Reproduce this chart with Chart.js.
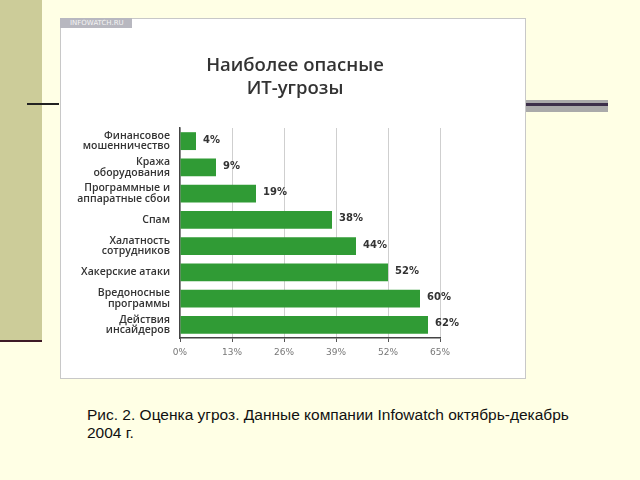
<!DOCTYPE html>
<html>
<head>
<meta charset="utf-8">
<script src="https://cdn.jsdelivr.net/npm/chart.js"></script>
<style>
  html, body { margin: 0; padding: 0; }
  body { width: 640px; height: 480px; background: #ffffe5; position: relative; overflow: hidden; }
  .strip { position: absolute; left: 0; top: 0; width: 42px; height: 340px; background: #cccc99; border-bottom: 2px solid #3d1a26; }
  .lineL { position: absolute; left: 27px; top: 103px; width: 32px; height: 2px; background: #222; }
  .bandR { position: absolute; left: 526px; top: 100px; width: 82px; height: 12px; background: #aaaaaa; }
  .bandR div { position: absolute; left: 0; top: 3px; width: 82px; height: 3px; background: #3c2f4a; }
  .panel { position: absolute; left: 60px; top: 18px; width: 464px; height: 359px; background: #fff; border: 1px solid #c8c8c8; }
  .tab { position: absolute; left: 60px; top: 18px; width: 72px; height: 10px; background: #b8b8c0; color: #f4f4f4;
         font: 7px "DejaVu Sans", sans-serif; line-height: 10px; text-indent: 10px; white-space: nowrap; overflow: hidden; }
  .chartbox { position: absolute; left: 61px; top: 19px; width: 463px; height: 358px; }
  .caption { position: absolute; left: 87px; top: 406px; font: 15.5px "Liberation Sans", Arial, sans-serif; line-height: 18px; color: #111; }
</style>
</head>
<body>
<div class="strip"></div>
<div class="lineL"></div>
<div class="bandR"><div></div></div>
<div class="panel"></div>
<div class="chartbox"><canvas id="chart"></canvas></div>
<div class="tab">INFOWATCH.RU</div>
<div class="caption">Рис. 2. Оценка угроз. Данные компании Infowatch октябрь-декабрь<br>2004 г.</div>
<script>
const categories = [
  ['Финансовое', 'мошенничество'],
  ['Кража', 'оборудования'],
  ['Программные и', 'аппаратные сбои'],
  'Спам',
  ['Халатность', 'сотрудников'],
  'Хакерские атаки',
  ['Вредоносные', 'программы'],
  ['Действия', 'инсайдеров']
];
const values = [4, 9, 19, 38, 44, 52, 60, 62];
const titleLines = ['Наиболее опасные', 'ИТ-угрозы'];
const tickMax = 65;
const tickStep = 13;

// two-line heading, centred on the white panel rather than the plot
const heading = {
  id: 'heading',
  afterDraw(chart) {
    const ctx = chart.ctx;
    ctx.save();
    ctx.font = '600 18.5px "Open Sans", sans-serif';
    ctx.fillStyle = '#333';
    ctx.textAlign = 'center';
    ctx.textBaseline = 'middle';
    titleLines.forEach((t, i) => ctx.fillText(t, 234, 46.5 + i * 23.5));
    ctx.restore();
  }
};

// percent labels at the end of each bar
const valueLabels = {
  id: 'valueLabels',
  afterDatasetsDraw(chart) {
    const ctx = chart.ctx;
    const meta = chart.getDatasetMeta(0);
    ctx.save();
    ctx.font = 'bold 10px "DejaVu Sans", sans-serif';
    ctx.fillStyle = '#333';
    ctx.textAlign = 'left';
    ctx.textBaseline = 'middle';
    meta.data.forEach((bar, i) => {
      ctx.fillText(values[i] + '%', bar.x + 7, bar.y - 1);
    });
    ctx.restore();
  }
};

new Chart(document.getElementById('chart'), {
  type: 'bar',
  data: {
    labels: categories,
    datasets: [{
      data: values,
      backgroundColor: '#309b35',
      borderWidth: 0,
      barPercentage: 0.68,
      categoryPercentage: 1
    }]
  },
  options: {
    indexAxis: 'y',
    responsive: true,
    maintainAspectRatio: false,
    animation: false,
    layout: { padding: { left: 0, right: 84, top: 109, bottom: 0 } },
    plugins: {
      legend: { display: false },
      tooltip: { enabled: false },
      title: { display: false }
    },
    scales: {
      x: {
        min: 0,
        max: tickMax,
        ticks: {
          stepSize: tickStep,
          callback: v => v + '%',
          color: '#777',
          font: { family: 'DejaVu Sans', size: 9 },
          padding: 5
        },
        grid: { color: '#cfcfcf', lineWidth: 1, tickLength: 4, tickColor: '#555' },
        border: { color: '#444', width: 1.5 },
        afterFit(scale) { scale.height = 39; }
      },
      y: {
        ticks: {
          color: '#333',
          font: { family: 'Open Sans', size: 10.5, weight: '600', lineHeight: 1.02 },
          padding: 2
        },
        grid: { display: false },
        border: { color: '#444', width: 1.5 },
        afterFit(scale) { scale.width = 119; }
      }
    }
  },
  plugins: [valueLabels, heading]
});
</script>
</body>
</html>
